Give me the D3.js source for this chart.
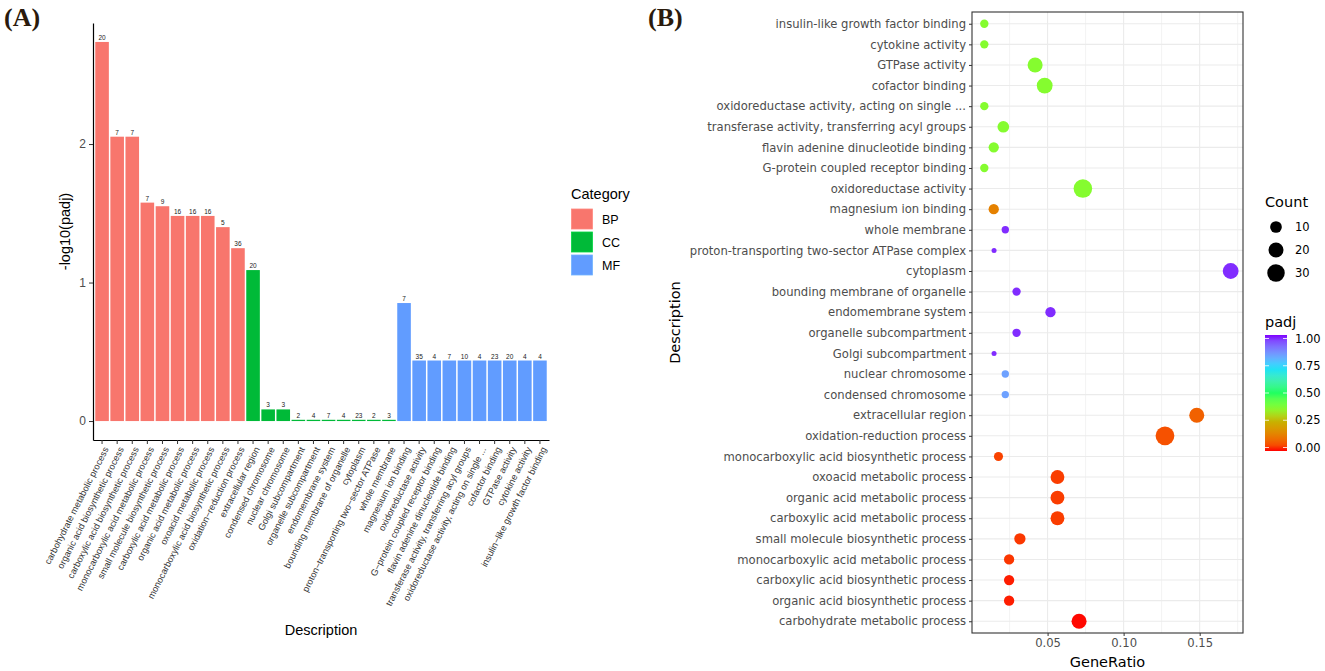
<!DOCTYPE html>
<html>
<head>
<meta charset="utf-8">
<script src="https://cdn.jsdelivr.net/npm/d3@7"></script>
<style>
  body { margin: 0; background: #fff; }
  .a-text { font-family: "Liberation Sans", Arial, sans-serif; }
  .b-text { font-family: "DejaVu Sans", sans-serif; }
</style>
</head>
<body>
<svg id="chart"></svg>
<script>
// GO terms, in the order of the bar chart (left to right), bottom to top in the dot plot
const terms = [
  'carbohydrate metabolic process', 'organic acid biosynthetic process', 'carboxylic acid biosynthetic process',
  'monocarboxylic acid metabolic process', 'small molecule biosynthetic process', 'carboxylic acid metabolic process',
  'organic acid metabolic process', 'oxoacid metabolic process', 'monocarboxylic acid biosynthetic process',
  'oxidation-reduction process',
  'extracellular region', 'condensed chromosome', 'nuclear chromosome', 'Golgi subcompartment',
  'organelle subcompartment', 'endomembrane system', 'bounding membrane of organelle', 'cytoplasm',
  'proton-transporting two-sector ATPase complex', 'whole membrane',
  'magnesium ion binding', 'oxidoreductase activity', 'G-protein coupled receptor binding',
  'flavin adenine dinucleotide binding', 'transferase activity, transferring acyl groups',
  'oxidoreductase activity, acting on single ...', 'cofactor binding', 'GTPase activity',
  'cytokine activity', 'insulin-like growth factor binding'
];
// bar chart axis labels (shortened where the figure shortens them)
const barLabels = [
  'carbohydrate metabolic process', 'organic acid biosynthetic process', 'carboxylic acid biosynthetic process',
  'monocarboxylic acid metabolic process', 'small molecule biosynthetic process', 'carboxylic acid metabolic process',
  'organic acid metabolic process', 'oxoacid metabolic process', 'monocarboxylic acid biosynthetic process',
  'oxidation−reduction process',
  'extracellular region', 'condensed chromosome', 'nuclear chromosome', 'Golgi subcompartment',
  'organelle subcompartment', 'endomembrane system', 'bounding membrane of organelle', 'cytoplasm',
  'proton−transporting two−sector ATPase', 'whole membrane',
  'magnesium ion binding', 'oxidoreductase activity', 'G−protein coupled receptor binding',
  'flavin adenine dinucleotide binding', 'transferase activity, transferring acyl groups',
  'oxidoreductase activity, acting on single ...', 'cofactor binding', 'GTPase activity',
  'cytokine activity', 'insulin−like growth factor binding'
];
const termCategory = [
  'BP', 'BP', 'BP', 'BP', 'BP', 'BP', 'BP', 'BP', 'BP', 'BP',
  'CC', 'CC', 'CC', 'CC', 'CC', 'CC', 'CC', 'CC', 'CC', 'CC',
  'MF', 'MF', 'MF', 'MF', 'MF', 'MF', 'MF', 'MF', 'MF', 'MF'
];
const negLog10Padj = [
  2.737, 2.053, 2.053, 1.577, 1.551, 1.481, 1.481, 1.481, 1.400, 1.248,
  1.090, 0.084, 0.084, 0.009, 0.009, 0.009, 0.009, 0.009, 0.009, 0.009,
  0.852, 0.437, 0.437, 0.437, 0.437, 0.437, 0.437, 0.437, 0.437, 0.437
];
const geneCount = [
  20, 7, 7, 7, 9, 16, 16, 16, 5, 36,
  20, 3, 3, 2, 4, 7, 4, 23, 2, 3,
  7, 35, 4, 7, 10, 4, 23, 20, 4, 4
];
const geneRatio = [
  0.0707, 0.0247, 0.0247, 0.0247, 0.0318, 0.0565, 0.0565, 0.0565, 0.0177, 0.1272,
  0.1481, 0.0222, 0.0222, 0.0148, 0.0296, 0.0519, 0.0296, 0.1704, 0.0148, 0.0222,
  0.0146, 0.0732, 0.0084, 0.0146, 0.0209, 0.0084, 0.0481, 0.0418, 0.0084, 0.0084
];
const categories = ['BP', 'CC', 'MF'];
const barYTicks = [0, 1, 2];
const ratioTicks = [0.05, 0.10, 0.15];
const ratioMinorTicks = [0.025, 0.075, 0.125, 0.175];
const countLegendValues = [10, 20, 30];
const padjLegendValues = [0, 0.25, 0.5, 0.75, 1];

const rows = terms.map((t, i) => ({
  term: t,
  label: barLabels[i],
  category: termCategory[i],
  score: negLog10Padj[i],
  padj: Math.pow(10, -negLog10Padj[i]),
  count: geneCount[i],
  ratio: geneRatio[i]
}));

const svg = d3.select('#chart')
  .attr('width', 1325)
  .attr('height', 671);

// ---------- panel letters ----------
svg.append('text').attr('x', 4).attr('y', 26)
  .style('font-family', '"Liberation Serif", "Times New Roman", serif')
  .style('font-weight', 'bold').style('font-size', '26px').attr('fill', '#2a1a0c')
  .text('(A)');
svg.append('text').attr('x', 648).attr('y', 26)
  .style('font-family', '"Liberation Serif", "Times New Roman", serif')
  .style('font-weight', 'bold').style('font-size', '26px').attr('fill', '#2a1a0c')
  .text('(B)');

// ---------- (A) bar chart ----------
const a = {left: 93, right: 549, top: 23, bottom: 440};
const catColor = d3.scaleOrdinal().domain(categories).range(['#F8766D', '#00BA38', '#619CFF']);

const maxScore = d3.max(rows, d => d.score);
const xA = d3.scaleBand()
  .domain(rows.map(d => d.label))
  .range([a.left, a.right])
  .paddingInner(0.1)
  .paddingOuter(0.15);
const yA = d3.scaleLinear()
  .domain([-0.05 * maxScore, 1.05 * maxScore])
  .range([a.bottom, a.top]);

const gA = svg.append('g').attr('class', 'a-text');

gA.selectAll('.bar')
  .data(rows)
  .join('rect')
    .attr('class', 'bar')
    .attr('x', d => xA(d.label))
    .attr('width', xA.bandwidth())
    .attr('y', d => yA(d.score))
    .attr('height', d => yA(0) - yA(d.score))
    .attr('fill', d => catColor(d.category));

gA.selectAll('.bar-label')
  .data(rows)
  .join('text')
    .attr('class', 'bar-label')
    .attr('x', d => xA(d.label) + xA.bandwidth() / 2)
    .attr('y', d => yA(d.score) - 2)
    .attr('text-anchor', 'middle')
    .style('font-size', '6.5px')
    .attr('fill', '#222')
    .text(d => d.count);

const yAxisA = gA.append('g')
  .attr('transform', `translate(${a.left},0)`)
  .call(d3.axisLeft(yA).tickValues(barYTicks).tickFormat(d3.format('d')).tickSize(4).tickSizeOuter(0).tickPadding(3));
const xAxisA = gA.append('g')
  .attr('transform', `translate(0,${a.bottom})`)
  .call(d3.axisBottom(xA).tickSize(4).tickSizeOuter(0));

[yAxisA, xAxisA].forEach(g => {
  g.select('.domain').attr('stroke', '#000').attr('stroke-width', 1.2);
  g.selectAll('.tick line').attr('stroke', '#333');
  g.selectAll('.tick text').attr('fill', '#4d4d4d').style('font-family', '"Liberation Sans", Arial, sans-serif');
});
yAxisA.selectAll('.tick text').style('font-size', '12px');
xAxisA.selectAll('.tick text')
  .style('font-size', '9.2px')
  .attr('fill', '#333')
  .attr('text-anchor', 'end')
  .attr('x', 0).attr('y', 0)
  .attr('dx', 0).attr('dy', '0.72em')
  .attr('transform', 'translate(1,6) rotate(-63)');

gA.append('text')
  .attr('transform', `translate(70,${(a.top + a.bottom) / 2}) rotate(-90)`)
  .attr('text-anchor', 'middle')
  .style('font-size', '14.5px')
  .text('-log10(padj)');
gA.append('text')
  .attr('x', (a.left + a.right) / 2).attr('y', 635)
  .attr('text-anchor', 'middle')
  .style('font-size', '14.5px')
  .text('Description');

// legend
const legA = gA.append('g').attr('transform', 'translate(571,0)');
legA.append('text').attr('x', 0).attr('y', 199).style('font-size', '14.5px').text('Category');
categories.forEach((c, i) => {
  const y0 = 209 + i * 23;
  legA.append('rect').attr('x', 0.5).attr('y', y0).attr('width', 21).attr('height', 20)
    .attr('fill', catColor(c)).attr('stroke', d3.color(catColor(c)).brighter(0.4)).attr('stroke-width', 0.8);
  legA.append('text').attr('x', 31).attr('y', y0 + 10).attr('dy', '0.36em')
    .style('font-size', '12.5px').text(c);
});

// ---------- (B) dot plot ----------
const b = {left: 972, right: 1243, top: 12, bottom: 633};
const ratioExtent = d3.extent(rows, d => d.ratio);
const ratioPad = 0.05 * (ratioExtent[1] - ratioExtent[0]);
const xB = d3.scaleLinear()
  .domain([ratioExtent[0] - ratioPad, ratioExtent[1] + ratioPad])
  .range([b.left, b.right]);
const yB = d3.scalePoint()
  .domain(rows.map(d => d.term))
  .range([b.bottom, b.top])
  .padding(0.57);

const countExtent = d3.extent(rows, d => d.count);
const countNorm = d3.scaleLinear().domain(countExtent).range([0, 1]).clamp(true);
const radius = d3.scaleSqrt().domain([0, 1]).range([2.5, 9.4]);
const r = c => radius(countNorm(c));

const padjColor = d3.scaleLinear()
  .domain([0, 0.25, 0.37, 0.5, 0.72, 1])
  .range(['#ff0000', '#c8b000', '#80ff30', '#20ff60', '#00e0ff', '#8000ff'])
  .interpolate(d3.interpolateLab);

const gB = svg.append('g').attr('class', 'b-text');

// grid
gB.selectAll('.minor')
  .data(ratioMinorTicks.filter(v => xB(v) < b.right))
  .join('line')
    .attr('x1', d => xB(d)).attr('x2', d => xB(d))
    .attr('y1', b.top).attr('y2', b.bottom)
    .attr('stroke', '#ebebeb').attr('stroke-width', 0.6);
gB.selectAll('.major-x')
  .data(ratioTicks)
  .join('line')
    .attr('x1', d => xB(d)).attr('x2', d => xB(d))
    .attr('y1', b.top).attr('y2', b.bottom)
    .attr('stroke', '#ebebeb').attr('stroke-width', 1.1);
gB.selectAll('.major-y')
  .data(rows)
  .join('line')
    .attr('x1', b.left).attr('x2', b.right)
    .attr('y1', d => yB(d.term)).attr('y2', d => yB(d.term))
    .attr('stroke', '#ebebeb').attr('stroke-width', 1.1);

gB.selectAll('.dot')
  .data(rows)
  .join('circle')
    .attr('class', 'dot')
    .attr('cx', d => xB(d.ratio))
    .attr('cy', d => yB(d.term))
    .attr('r', d => r(d.count))
    .attr('fill', d => padjColor(d.padj));

gB.append('rect')
  .attr('x', b.left).attr('y', b.top)
  .attr('width', b.right - b.left).attr('height', b.bottom - b.top)
  .attr('fill', 'none').attr('stroke', '#333').attr('stroke-width', 1.1);

const yAxisB = gB.append('g')
  .attr('transform', `translate(${b.left},0)`)
  .call(d3.axisLeft(yB).tickSize(3).tickPadding(3));
const xAxisB = gB.append('g')
  .attr('transform', `translate(0,${b.bottom})`)
  .call(d3.axisBottom(xB).tickValues(ratioTicks).tickFormat(d3.format('.2f')).tickSize(3).tickPadding(3));
[yAxisB, xAxisB].forEach(g => {
  g.select('.domain').remove();
  g.selectAll('.tick line').attr('stroke', '#333');
  g.selectAll('.tick text').attr('fill', '#4d4d4d')
    .style('font-family', '"DejaVu Sans", sans-serif').style('font-size', '11.6px');
});

gB.append('text')
  .attr('x', (b.left + b.right) / 2).attr('y', 667)
  .attr('text-anchor', 'middle').style('font-size', '14.5px')
  .text('GeneRatio');
gB.append('text')
  .attr('transform', `translate(680,${(b.top + b.bottom) / 2}) rotate(-90)`)
  .attr('text-anchor', 'middle').style('font-size', '14.5px')
  .text('Description');

// size legend
const legB = gB.append('g').attr('transform', 'translate(1265,0)');
legB.append('text').attr('x', 0).attr('y', 207).style('font-size', '14.5px').text('Count');
countLegendValues.forEach((c, i) => {
  const cy = 227 + i * 23;
  legB.append('circle').attr('cx', 11).attr('cy', cy).attr('r', r(c)).attr('fill', '#000');
  legB.append('text').attr('x', 30).attr('y', cy).attr('dy', '0.36em')
    .style('font-size', '11.5px').text(c);
});

// colour bar legend
legB.append('text').attr('x', 0).attr('y', 327).style('font-size', '14.5px').text('padj');
const barTop = 335, barBottom = 451, barW = 22;
const cbY = d3.scaleLinear().domain([0, 1]).range([447.5, 338.5]);
const grad = svg.append('defs').append('linearGradient')
  .attr('id', 'padj-grad').attr('x1', 0).attr('x2', 0).attr('y1', 1).attr('y2', 0);
d3.range(0, 1.0001, 0.05).forEach(t => {
  grad.append('stop').attr('offset', t).attr('stop-color', padjColor(t));
});
legB.append('rect').attr('x', 0).attr('y', barTop).attr('width', barW).attr('height', barBottom - barTop)
  .attr('fill', 'url(#padj-grad)');
padjLegendValues.forEach(v => {
  const y = cbY(v);
  legB.append('line').attr('x1', 0).attr('x2', 4).attr('y1', y).attr('y2', y).attr('stroke', '#fff').attr('stroke-opacity', 0.8);
  legB.append('line').attr('x1', barW - 4).attr('x2', barW).attr('y1', y).attr('y2', y).attr('stroke', '#fff').attr('stroke-opacity', 0.8);
  legB.append('text').attr('x', 30).attr('y', y).attr('dy', '0.36em')
    .style('font-size', '11.5px').text(d3.format('.2f')(v));
});
</script>
</body>
</html>
